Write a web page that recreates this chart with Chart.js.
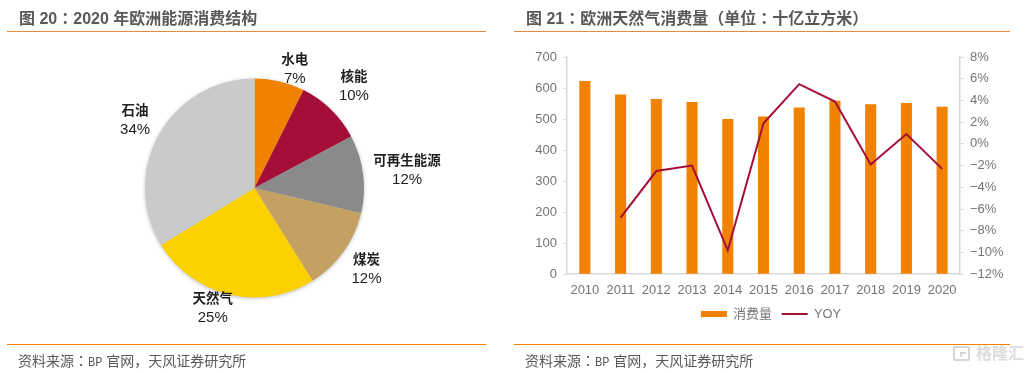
<!DOCTYPE html>
<html><head><meta charset="utf-8">
<script src="https://cdn.jsdelivr.net/npm/chart.js@4"></script>
<style>
html,body{margin:0;padding:0;background:#fff;width:1027px;height:373px;overflow:hidden;font-family:"Liberation Sans","Noto Sans CJK SC",sans-serif}
.abs{position:absolute;white-space:pre}
.title{font-size:16px;font-weight:700;color:#595959;line-height:20px;top:7px}
.foot{font-size:14px;color:#595959;line-height:18px;top:351px}
.foot b{font:12px "Liberation Mono",monospace}
.tc{font-family:"Noto Sans CJK TC",sans-serif}
.rule{position:absolute;height:1px}
canvas{position:absolute;top:0}
</style></head><body>
<canvas id="pie" style="left:0"></canvas>
<canvas id="combo" style="left:510px"></canvas>
<div class="abs title" style="left:19px">图 20<span class="tc">：</span>2020 年欧洲能源消费结构</div>
<div class="abs title" style="left:526px">图 21<span class="tc">：</span>欧洲天然气消费量（单位<span class="tc">：</span>十亿立方米）</div>
<div class="rule" style="left:7px;width:479px;top:31px;background:#E9893F"></div>
<div class="rule" style="left:514px;width:496px;top:31px;background:#E9893F"></div>
<div class="rule" style="left:7px;width:479px;top:344px;background:#F08200"></div>
<div class="rule" style="left:514px;width:496px;top:344px;background:#F08200"></div>
<div class="abs foot" style="left:18px">资料来源<span class="tc">：</span><b>BP</b> 官网，天风证券研究所</div>
<div class="abs foot" style="left:525px">资料来源<span class="tc">：</span><b>BP</b> 官网，天风证券研究所</div>
<div class="abs" style="left:953px;top:346px;width:17px;height:15px;border:2px solid #d6d6d6;border-radius:2px;box-sizing:border-box"></div>
<div class="abs" style="left:960px;top:352px;width:6px;height:5px;border-left:2px solid #d6d6d6;border-top:2px solid #d6d6d6;box-sizing:border-box"></div>
<div class="abs" style="left:976px;top:344px;font-size:16px;line-height:20px;font-weight:700;color:#dcdcdc">格隆汇</div>
<script>
const pieLabels = ['水电','核能','可再生能源','煤炭','天然气','石油'];
const pieValues = [7.4,9.8,11.5,12.4,25.2,33.7];
const piePercent = ['7%','10%','12%','12%','25%','34%'];
const pieColors = ['#F08200','#A50F37','#8A8A8A','#C4A063','#FDD000','#C8CACC'];

const years = ['2010','2011','2012','2013','2014','2015','2016','2017','2018','2019','2020'];
const consumption = [623,579,565,555,500,508,537,559,548,552,540];
const yoy = [null,-6.8,-2.5,-2.0,-9.8,1.9,5.5,3.9,-1.9,0.9,-2.3];

// label centre offsets (px) from each slice's outer-edge midpoint
const labelOffsets = [[15,-13],[23,-24],[44,-4],[23,17],[-16.5,13.4],[-24,-14.5]];

function size(id,w,h){const c=document.getElementById(id);c.width=w;c.height=h;c.style.width=w+'px';c.style.height=h+'px';return c;}
Chart.defaults.animation=false;
Chart.defaults.responsive=false;
Chart.defaults.font.family='"Liberation Sans","Noto Sans CJK SC",sans-serif';

const pieDecor={
  id:'pieDecor',
  beforeDatasetsDraw(chart){
    const a=chart.getDatasetMeta(0).data[0],ctx=chart.ctx;
    ctx.save();ctx.shadowColor='rgba(0,0,0,0.3)';ctx.shadowBlur=4;ctx.shadowOffsetX=0;ctx.shadowOffsetY=1;
    ctx.fillStyle='#ccc';ctx.beginPath();ctx.arc(a.x,a.y,a.outerRadius-0.5,0,Math.PI*2);ctx.fill();ctx.restore();
  },
  afterDatasetsDraw(chart){
    const ctx=chart.ctx;ctx.save();ctx.textAlign='center';ctx.textBaseline='middle';ctx.fillStyle='#1f1f1f';
    chart.getDatasetMeta(0).data.forEach((a,i)=>{
      const mid=(a.startAngle+a.endAngle)/2;
      const x=a.x+Math.cos(mid)*a.outerRadius+labelOffsets[i][0];
      const y=a.y+Math.sin(mid)*a.outerRadius+labelOffsets[i][1];
      ctx.font='700 13.5px "Noto Sans CJK SC",sans-serif';ctx.fillText(pieLabels[i],x,y-10);
      ctx.font='15px "Liberation Sans",sans-serif';ctx.fillText(piePercent[i],x,y+10);
    });ctx.restore();
  }
};
new Chart(size('pie',500,373),{
  type:'pie',
  data:{labels:pieLabels,datasets:[{data:pieValues,backgroundColor:pieColors,borderWidth:0}]},
  options:{layout:{padding:{left:145,right:136,top:78.5,bottom:75.5}},
    plugins:{legend:{display:false},tooltip:{enabled:false}}},
  plugins:[pieDecor]
});

const axisColor='#D9D9D9',tickText='#757575';
function fixWidth(w){return s=>{s.width=w;};}
new Chart(size('combo',517,373),{
  data:{labels:years,datasets:[
    {type:'bar',label:'消费量',data:consumption,backgroundColor:'#F08200',yAxisID:'y',order:2,barPercentage:1,categoryPercentage:0.31},
    {type:'line',label:'YOY',data:yoy,borderColor:'#A50F37',borderWidth:2,pointRadius:0,tension:0,yAxisID:'y2',order:1,spanGaps:false}
  ]},
  options:{
    layout:{padding:{left:5,right:0,top:57,bottom:42.5}},
    scales:{
      x:{grid:{display:false},border:{color:axisColor,width:1.5},afterFit:s=>{s.height=23.5;},
        ticks:{color:tickText,font:{size:13},padding:0,maxRotation:0,autoSkip:false}},
      y:{position:'left',min:0,max:700,afterFit:fixWidth(52),
        grid:{drawOnChartArea:false,tickLength:4,color:axisColor},border:{color:axisColor,width:1.5},
        ticks:{stepSize:100,color:tickText,font:{size:13},padding:6}},
      y2:{position:'right',min:-12,max:8,afterFit:fixWidth(67),
        grid:{drawOnChartArea:false,tickLength:4,color:axisColor},border:{color:axisColor,width:1.5},
        ticks:{stepSize:2,color:tickText,font:{size:13},padding:6,
          callback:v=>(v<0?'−'+(-v):v)+'%'}}
    },
    plugins:{tooltip:{enabled:false},
      legend:{position:'bottom',labels:{color:tickText,font:{size:12.8},usePointStyle:true,pointStyleWidth:26,boxHeight:6,padding:10,
        generateLabels(chart){
          const l=Chart.defaults.plugins.legend.labels.generateLabels(chart);
          l.sort((a,b)=>a.datasetIndex-b.datasetIndex);
          l[0].pointStyle='rect';l[0].lineWidth=0;l[0].fillStyle='#F08200';
          l[1].pointStyle='line';l[1].lineWidth=2;l[1].strokeStyle='#A50F37';
          return l;
        }}}
    }
  }
});
</script>
</body></html>
